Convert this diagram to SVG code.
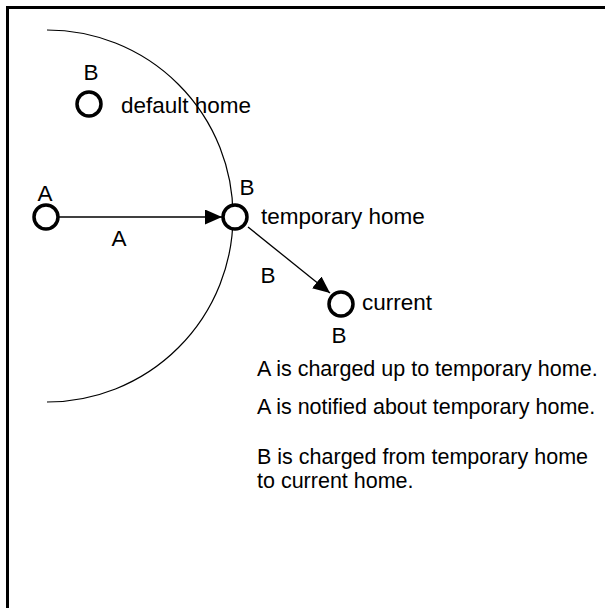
<svg xmlns="http://www.w3.org/2000/svg" width="605" height="608" viewBox="0 0 605 608">
<style>
.t{font-family:"Liberation Sans",Arial,sans-serif;font-size:22.5px;fill:#000}
.d{font-family:"Liberation Sans",Arial,sans-serif;font-size:21.5px;fill:#000}
.n{fill:#fff;stroke:#000;stroke-width:3.5}
.c{stroke:#000;stroke-width:1.3;fill:none}
</style>
<defs>
<marker id="ah" viewBox="0 0 17 15" refX="17" refY="7.5" markerWidth="17" markerHeight="15" markerUnits="userSpaceOnUse" orient="auto">
<path d="M0,0 L17,7.5 L0,15 Z" fill="#000"/>
</marker>
</defs>
<rect width="605" height="608" fill="#fff"/>
<path d="M7.5,608 V7.5 H605" fill="none" stroke="#000" stroke-width="3"/>
<path d="M47,30 A186,186 0 0 1 47,402" fill="none" stroke="#000" stroke-width="1.2"/>
<g id="connectors">
<line class="c" x1="58" y1="217" x2="222" y2="217" marker-end="url(#ah)"/>
<line class="c" x1="248" y1="227" x2="330" y2="293" marker-end="url(#ah)"/>
</g>
<g id="node-default">
<circle class="n" cx="89" cy="104" r="12"/>
<text class="t" x="91" y="80" text-anchor="middle">B</text>
<text class="t" x="121" y="113">default home</text>
</g>
<g id="node-A">
<circle class="n" cx="46" cy="217" r="12"/>
<text class="t" x="45" y="201" text-anchor="middle">A</text>
</g>
<g id="node-temp">
<circle class="n" cx="235" cy="217" r="12"/>
<text class="t" x="247" y="195" text-anchor="middle">B</text>
<text class="t" x="261" y="224">temporary home</text>
</g>
<g id="node-current">
<circle class="n" cx="341" cy="304" r="12"/>
<text class="t" x="362" y="310">current</text>
<text class="t" x="339" y="343" text-anchor="middle">B</text>
</g>
<text class="t" x="119" y="246" text-anchor="middle">A</text>
<text class="t" x="268" y="283" text-anchor="middle">B</text>
<text class="d" x="257" y="376">A is charged up to temporary home.</text>
<text class="d" x="257" y="414">A is notified about temporary home.</text>
<text class="d" x="257" y="464">B is charged from temporary home</text>
<text class="d" x="257" y="488">to current home.</text>
</svg>
